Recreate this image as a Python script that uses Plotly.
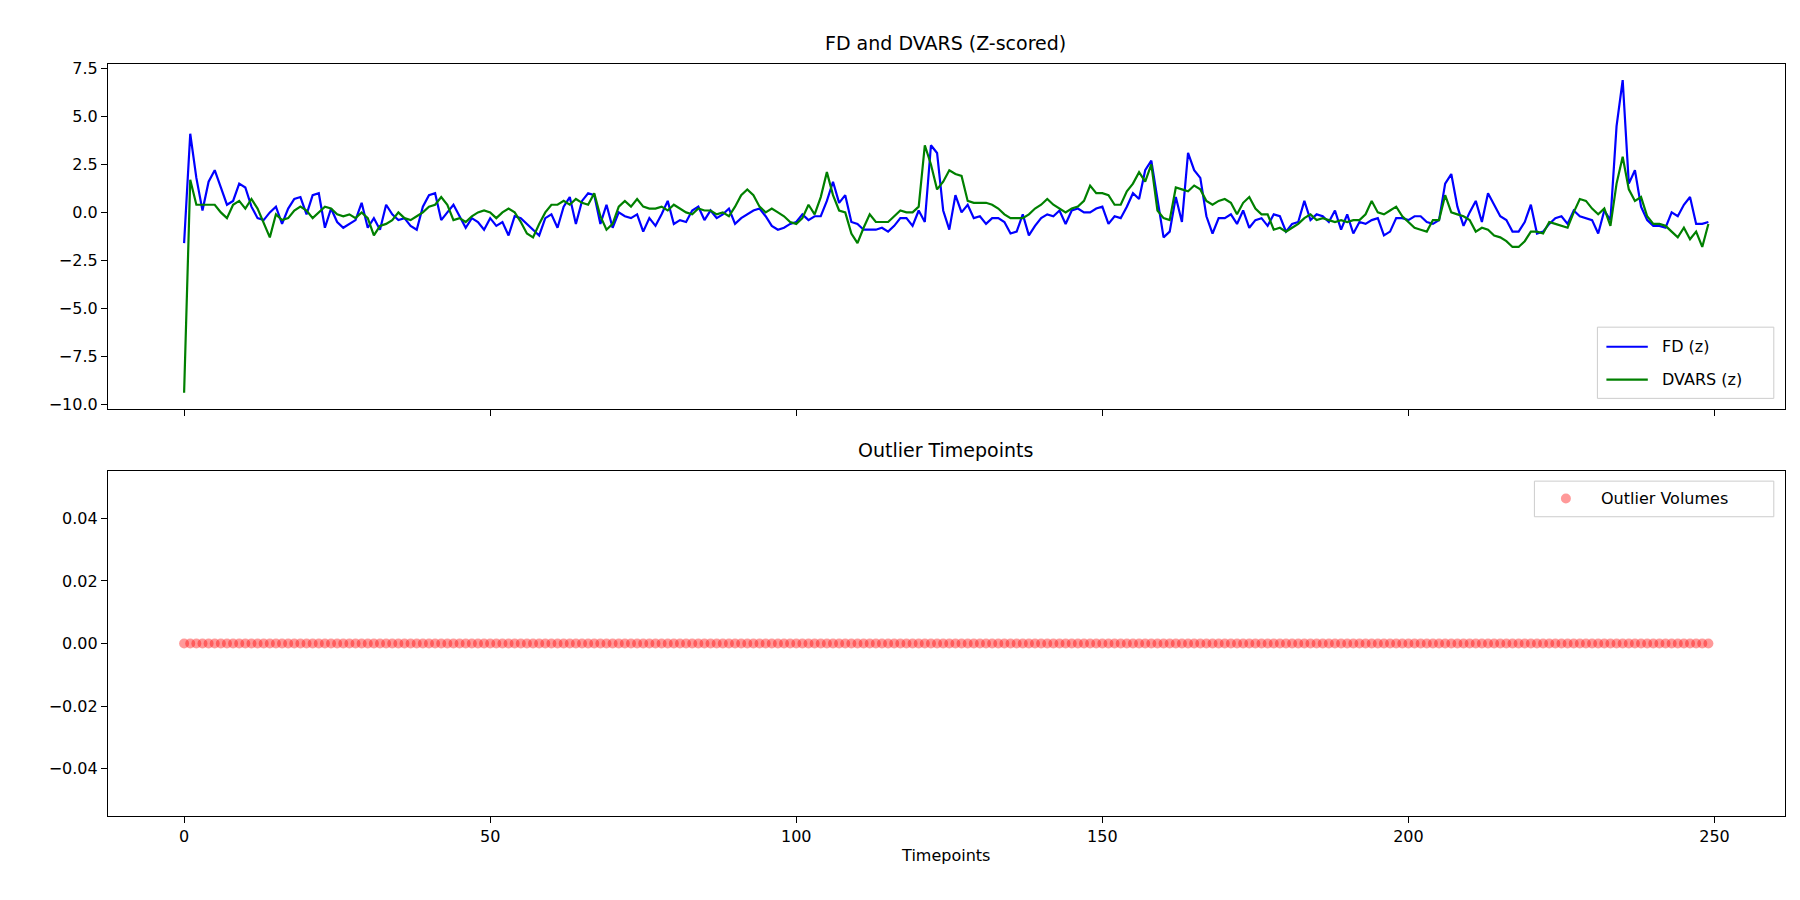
import plotly.graph_objects as go

fd = [-1.6,4.1,1.8,0.1,1.6,2.2,1.3,0.4,0.6,1.5,1.3,0.3,-0.3,-0.4,0.0,0.3,-0.6,0.2,0.7,0.8,
-0.1,0.9,1.0,-0.8,0.2,-0.5,-0.8,-0.6,-0.4,0.5,-0.8,-0.3,-0.9,0.4,-0.1,-0.4,-0.3,-0.7,-0.9,0.3,
0.9,1.0,-0.4,0.0,0.4,-0.2,-0.8,-0.3,-0.5,-0.9,-0.3,-0.7,-0.5,-1.2,-0.2,-0.3,-0.6,-0.9,-1.2,-0.3,
-0.1,-0.8,0.3,0.8,-0.6,0.6,1.0,0.9,-0.6,0.4,-0.8,0.0,-0.2,-0.3,-0.1,-1.0,-0.3,-0.7,-0.1,0.6,
-0.6,-0.4,-0.5,0.1,0.3,-0.4,0.1,-0.3,-0.1,0.2,-0.6,-0.3,-0.1,0.1,0.2,-0.2,-0.7,-0.9,-0.8,-0.6,
-0.5,-0.1,-0.4,-0.2,-0.2,0.6,1.6,0.5,0.9,-0.5,-0.6,-0.9,-0.9,-0.9,-0.8,-1.0,-0.7,-0.3,-0.3,-0.7,
0.1,-0.5,3.5,3.1,0.1,-0.9,0.9,0.0,0.4,-0.3,-0.2,-0.6,-0.3,-0.3,-0.5,-1.1,-1.0,-0.1,-1.2,-0.7,
-0.3,-0.1,-0.2,0.1,-0.6,0.1,0.2,0.0,0.0,0.2,0.3,-0.6,-0.2,-0.3,0.3,1.0,0.7,2.2,2.7,0.6,
-1.3,-1.0,0.8,-0.5,3.1,2.2,1.8,-0.2,-1.1,-0.3,-0.3,-0.1,-0.6,0.1,-0.8,-0.4,-0.3,-0.7,-0.1,-0.2,
-1.0,-0.6,-0.5,0.6,-0.4,-0.1,-0.2,-0.5,0.1,-0.9,-0.1,-1.1,-0.5,-0.6,-0.4,-0.3,-1.2,-1.0,-0.3,-0.3,
-0.4,-0.2,-0.2,-0.5,-0.6,-0.4,1.5,2.0,0.3,-0.7,0.0,0.6,-0.5,1.0,0.4,-0.2,-0.4,-1.0,-1.0,-0.5,
0.4,-1.1,-1.0,-0.6,-0.3,-0.2,-0.6,0.1,-0.2,-0.3,-0.4,-1.1,0.1,-0.4,4.5,6.9,1.5,2.2,0.3,-0.4,
-0.7,-0.7,-0.8,0.0,-0.2,0.4,0.8,-0.6,-0.6,-0.5]

dvars = [-9.4,1.7,0.4,0.4,0.4,0.4,0.0,-0.3,0.4,0.6,0.2,0.7,0.2,-0.6,-1.3,-0.1,-0.4,-0.3,0.1,0.3,
0.1,-0.3,0.0,0.3,0.2,-0.1,-0.2,-0.1,-0.3,0.0,-0.3,-1.2,-0.7,-0.6,-0.4,0.0,-0.3,-0.4,-0.2,0.0,
0.3,0.4,0.8,0.4,-0.4,-0.3,-0.5,-0.2,0.0,0.1,0.0,-0.3,0.0,0.2,0.0,-0.5,-1.1,-1.3,-0.6,0.0,
0.4,0.4,0.6,0.4,0.7,0.5,0.4,1.0,-0.2,-0.9,-0.6,0.3,0.6,0.3,0.7,0.3,0.2,0.2,0.3,0.1,
0.4,0.2,0.0,-0.1,0.2,0.1,0.1,-0.1,0.0,-0.2,0.3,0.9,1.2,0.9,0.3,0.0,0.2,0.0,-0.2,-0.5,
-0.6,-0.3,0.4,-0.1,0.8,2.1,0.9,0.1,0.0,-1.1,-1.6,-0.8,-0.1,-0.5,-0.5,-0.5,-0.2,0.1,0.0,0.0,
0.3,3.5,2.5,1.2,1.6,2.2,2.0,1.9,0.6,0.5,0.5,0.5,0.4,0.2,-0.1,-0.3,-0.3,-0.3,-0.1,0.2,
0.4,0.7,0.4,0.2,0.0,0.2,0.3,0.6,1.4,1.0,1.0,0.9,0.4,0.4,1.1,1.5,2.1,1.6,2.5,0.1,
-0.3,-0.4,1.3,1.2,1.1,1.4,1.2,0.6,0.4,0.6,0.7,0.5,-0.1,0.5,0.8,0.2,-0.1,-0.1,-0.9,-0.8,
-1.0,-0.8,-0.6,-0.3,-0.1,-0.4,-0.3,-0.4,-0.5,-0.4,-0.5,-0.4,-0.4,-0.1,0.6,0.0,-0.1,0.1,0.3,-0.2,
-0.5,-0.8,-0.9,-1.0,-0.4,-0.4,0.9,0.0,-0.1,-0.2,-0.4,-1.0,-0.8,-0.9,-1.2,-1.3,-1.5,-1.8,-1.8,-1.5,
-1.0,-1.0,-1.1,-0.5,-0.6,-0.7,-0.8,0.0,0.7,0.6,0.2,-0.1,0.2,-0.7,1.5,2.9,1.2,0.6,0.8,-0.2,
-0.6,-0.6,-0.7,-1.0,-1.3,-0.8,-1.4,-1.0,-1.8,-0.6]

t = list(range(len(fd)))
outliers = [0.0] * len(t)

fig = go.Figure()
fig.add_trace(go.Scatter(x=t, y=fd, mode="lines", name="FD (z)",
                         line=dict(color="blue", width=2.2), xaxis="x", yaxis="y"))
fig.add_trace(go.Scatter(x=t, y=dvars, mode="lines", name="DVARS (z)",
                         line=dict(color="green", width=2.2), xaxis="x", yaxis="y"))
fig.add_trace(go.Scatter(x=t, y=outliers, mode="markers", name="Outlier Volumes",
                         marker=dict(color="rgba(255,0,0,0.4)", size=10, line=dict(width=0)),
                         xaxis="x2", yaxis="y2"))

font = dict(family="DejaVu Sans", size=16, color="black")
ax = dict(showline=True, linecolor="black", mirror=True, ticks="outside", ticklen=6,
          tickcolor="black", showgrid=False, zeroline=False, tickfont=font)

fig.update_layout(
    width=1800, height=900, plot_bgcolor="white", paper_bgcolor="white",
    margin=dict(l=0, r=0, t=0, b=0), showlegend=False, font=font,
    xaxis=dict(ax, domain=[0.0555, 0.987], range=[-12.45, 261.45], showticklabels=False,
               tickvals=[0, 50, 100, 150, 200, 250], anchor="y"),
    yaxis=dict(ax, domain=[0.555, 0.943], range=[-10.25, 7.75],
               tickvals=[-10, -7.5, -5, -2.5, 0, 2.5, 5, 7.5],
               ticktext=["−10.0", "−7.5", "−5.0", "−2.5", "0.0", "2.5", "5.0", "7.5"], anchor="x"),
    xaxis2=dict(ax, domain=[0.0555, 0.987], range=[-12.45, 261.45],
                tickvals=[0, 50, 100, 150, 200, 250], anchor="y2",
                title=dict(text="Timepoints", font=font, standoff=4)),
    yaxis2=dict(ax, domain=[0.098, 0.485], range=[-0.055, 0.055],
                tickvals=[-0.04, -0.02, 0, 0.02, 0.04],
                ticktext=["−0.04", "−0.02", "0.00", "0.02", "0.04"], anchor="x2"),
    annotations=[
        dict(text="FD and DVARS (Z-scored)", x=0.521, y=0.952, xref="paper", yref="paper",
             showarrow=False, xanchor="center", yanchor="bottom", font=dict(family="DejaVu Sans", size=19)),
        dict(text="Outlier Timepoints", x=0.521, y=0.494, xref="paper", yref="paper",
             showarrow=False, xanchor="center", yanchor="bottom", font=dict(family="DejaVu Sans", size=19)),
    ],
)

mx, my = 0.8655, 0.4545
rx, ry = 5 / 1800, 5 / 900
shapes = [
    dict(type="rect", xref="paper", yref="paper", x0=0.883, x1=0.981, y0=0.567, y1=0.647,
         line=dict(color="#cccccc", width=1), fillcolor="rgba(255,255,255,0.8)"),
    dict(type="line", xref="paper", yref="paper", x0=0.888, x1=0.911, y0=0.625, y1=0.625,
         line=dict(color="blue", width=2.2)),
    dict(type="line", xref="paper", yref="paper", x0=0.888, x1=0.911, y0=0.588, y1=0.588,
         line=dict(color="green", width=2.2)),
    dict(type="rect", xref="paper", yref="paper", x0=0.848, x1=0.981, y0=0.434, y1=0.474,
         line=dict(color="#cccccc", width=1), fillcolor="rgba(255,255,255,0.8)"),
    dict(type="circle", xref="paper", yref="paper", x0=mx - rx, x1=mx + rx, y0=my - ry, y1=my + ry,
         line=dict(width=0), fillcolor="rgba(255,0,0,0.4)"),
]
fig.update_layout(shapes=shapes)
for txt, x, y in [("FD (z)", 0.918, 0.625), ("DVARS (z)", 0.918, 0.588), ("Outlier Volumes", 0.884, 0.4545)]:
    fig.add_annotation(text=txt, x=x, y=y, xref="paper", yref="paper", showarrow=False,
                       xanchor="left", yanchor="middle", font=font)

fig.write_html("out.html")
